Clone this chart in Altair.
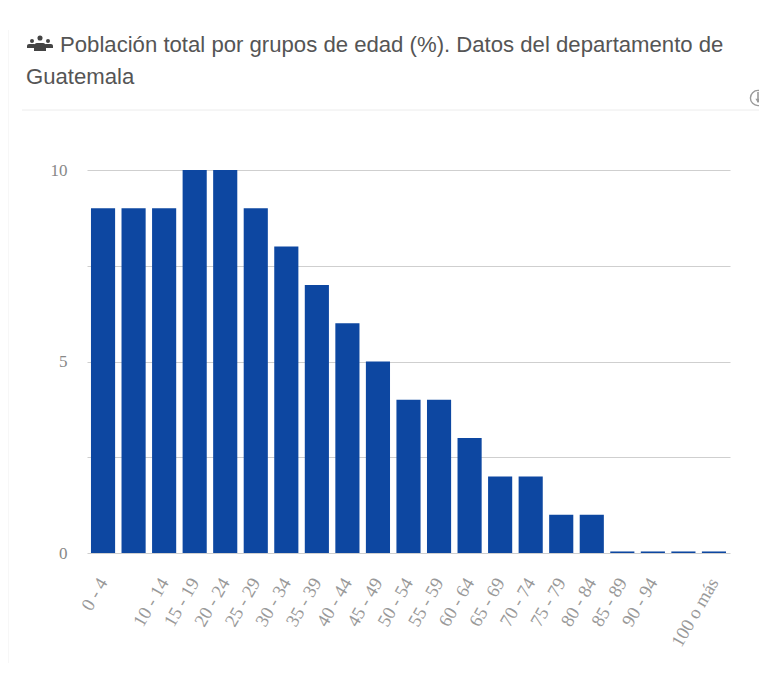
import altair as alt
import pandas as pd

groups = ["0 - 4", "5 - 9", "10 - 14", "15 - 19", "20 - 24", "25 - 29", "30 - 34",
          "35 - 39", "40 - 44", "45 - 49", "50 - 54", "55 - 59", "60 - 64", "65 - 69",
          "70 - 74", "75 - 79", "80 - 84", "85 - 89", "90 - 94", "95 - 99", "100 o más"]
values = [9, 9, 9, 10, 10, 9, 8, 7, 6, 5, 4, 4, 3, 2, 2, 1, 1, 0.04, 0.04, 0.04, 0.04]
hidden = ["5 - 9", "95 - 99"]
title_lines = ["Población total por grupos de edad (%). Datos del departamento de", "Guatemala"]

df = pd.DataFrame({"grupo": groups, "valor": values})
one = pd.DataFrame({"a": [0]})
hide_expr = "indexof(" + str(hidden) + ", datum.value) >= 0 ? '' : datum.value"

bars = alt.Chart(df).mark_bar(color="#0D47A1").encode(
    x=alt.X("grupo:N", sort=groups,
            scale=alt.Scale(paddingInner=0.21, paddingOuter=0.13),
            axis=alt.Axis(title=None, labelAngle=300, labelAlign="right", labelBaseline="middle",
                          labelFont="Liberation Serif", labelFontSize=18.5, labelColor="#999999",
                          labelPadding=26, ticks=False, domain=False, grid=False,
                          labelExpr=hide_expr, labelOverlap=False, labelLimit=200)),
    y=alt.Y("valor:Q", scale=alt.Scale(domain=[0, 10]),
            axis=alt.Axis(title=None, values=[0, 2.5, 5, 7.5, 10], labelExpr="datum.value % 5 == 0 ? datum.label : ''",
                          labelFont="Liberation Serif", labelFontSize=17, labelColor="#888888",
                          labelPadding=20, ticks=False, domain=False, grid=True,
                          gridColor="#cfcfcf", gridWidth=1)),
)


def txt(text, x, y, **kw):
    return alt.Chart(pd.DataFrame({"t": [text]})).mark_text(align="left", baseline="alphabetic", **kw).encode(
        x=alt.value(x), y=alt.value(y), text="t:N")


title1 = txt(title_lines[0], -27, -118, font="Liberation Sans", fontSize=22.15, color="#555555")
title2 = txt(title_lines[1], -61, -86, font="Liberation Sans", fontSize=22.15, color="#555555")


def dot(x, y, size):
    return alt.Chart(one).mark_point(filled=True, color="#444444", opacity=1, shape="circle").encode(
        x=alt.value(x), y=alt.value(y), size=alt.value(size))


def body(x, x2, y, y2):
    return alt.Chart(one).mark_bar(color="#444444", cornerRadiusTopLeft=3, cornerRadiusTopRight=3).encode(
        x=alt.value(x), x2=alt.value(x2), y=alt.value(y), y2=alt.value(y2))


icon = [
    dot(-55, -129, 16), dot(-47, -132, 26), dot(-39, -129, 16),
    body(-60, -51, -126, -122), body(-43, -34, -126, -122), body(-53, -41, -127, -119),
]

download = [
    alt.Chart(one).mark_point(filled=False, color="#9a9a9a", strokeWidth=1.4, opacity=1, shape="circle").encode(
        x=alt.value(671), y=alt.value(-72), size=alt.value(230)),
    alt.Chart(one).mark_rule(color="#9a9a9a", strokeWidth=1.6).encode(
        x=alt.value(671), y=alt.value(-78), y2=alt.value(-68)),
    alt.Chart(one).mark_point(filled=True, color="#9a9a9a", opacity=1, shape="triangle-down").encode(
        x=alt.value(671), y=alt.value(-69), size=alt.value(26)),
]

sep = alt.Chart(one).mark_rule(color="#ececec", strokeWidth=1).encode(
    x=alt.value(-65), x2=alt.value(680), y=alt.value(-60))
left = alt.Chart(one).mark_rule(color="#f0f0f0", strokeWidth=1).encode(
    x=alt.value(-79), y=alt.value(-140), y2=alt.value(500))

chart = alt.layer(left, sep, bars, title1, title2, *icon, *download).properties(
    width=643, height=383,
    padding={"left": 79, "top": 162, "right": 29, "bottom": 110},
    autosize=alt.AutoSizeParams(type="none"),
    background="white",
).configure_view(stroke=None)

chart.save("out.html", embed_options={"renderer": "svg", "actions": False})
